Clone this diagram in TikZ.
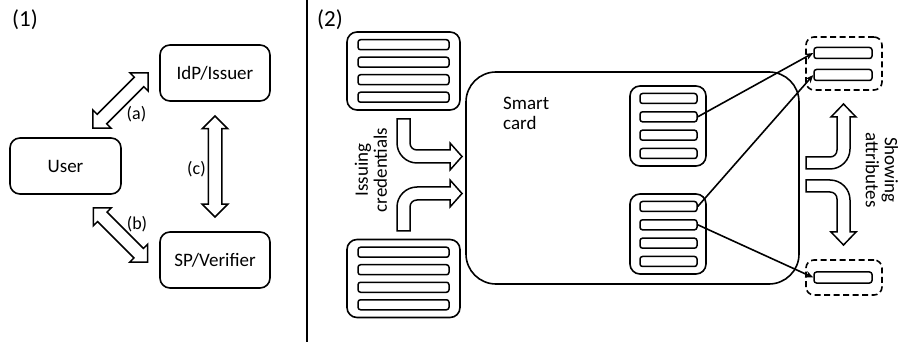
\documentclass[tikz,border=0pt]{standalone}
\usepackage{fontspec}
\setmainfont{Carlito}
\usetikzlibrary{shapes.arrows,arrows.meta}
\begin{document}
\begin{tikzpicture}[x=1pt,y=-1pt,
  box/.style={draw, line width=1.6pt, rounded corners=10pt, minimum width=110pt, minimum height=56pt, inner sep=0pt, font=\fontsize{19}{22}\selectfont},
  fat/.style={double arrow, draw, line width=1.5pt, fill=white, inner xsep=0pt, inner ysep=6pt, minimum width=24pt, double arrow head extend=6pt},
  lbl/.style={font=\fontsize{18}{21}\selectfont, inner sep=0pt},
  big/.style={font=\fontsize{23}{26}\selectfont, inner sep=0pt},
  txt/.style={font=\fontsize{19}{19}\selectfont, inner sep=0pt, align=center},
  cred/.style={draw, line width=1.6pt, rounded corners=10pt, minimum width=113pt, minimum height=78pt, inner sep=0pt},
  incred/.style={draw, line width=1.6pt, rounded corners=10pt, minimum width=76pt, minimum height=80pt, inner sep=0pt},
  bar/.style={draw, line width=1.5pt, rounded corners=2.5pt, minimum width=91pt, minimum height=10pt, inner sep=0pt},
  sbar/.style={bar, minimum width=57pt},
  dbox/.style={draw, line width=1.6pt, dash pattern=on 6pt off 3.5pt, rounded corners=8pt, minimum width=76pt, inner sep=0pt},
  link/.style={line width=1.6pt, -{Stealth[length=8pt,width=6.5pt]}},
  bent/.style={draw, line width=1.5pt, fill=white, line join=miter}
]
\useasboundingbox (0,0) rectangle (899,347);

% ---------- panel (1)
\node[big] (p1) at (25,20) {(1)};
\node[box] (idp) at (215,73) {IdP/Issuer};
\node[box, minimum width=111pt] (user) at (65.5,166) {User};
\node[box] (sp) at (215,260) {SP/Verifier};
\node[fat, minimum height=78pt, rotate=45] (fa) at (120.5,100.5) {};
\node[fat, minimum height=77pt, rotate=-45] (fb) at (120.5,235) {};
\node[fat, minimum height=101pt, rotate=90] (fc) at (215,166.5) {};
\node[lbl] (la) at (136.5,114.5) {(a)};
\node[lbl] (lb) at (137,224.5) {(b)};
\node[lbl] (lc) at (196.5,169.5) {(c)};

% divider
\coordinate (dtop) at (307,0);
\coordinate (dbot) at (307,342);
\draw[line width=2.2pt] (dtop) -- (dbot);

% ---------- panel (2)
\node[big] (p2) at (330,20) {(2)};

% issuer credential blocks
\node[cred] (c1) at (403.5,71) {};
\foreach \i/\dy in {1/-26.25,2/-8.75,3/8.75,4/26.25}
  \node[bar] (c1b\i) at (403.5,71+\dy) {};
\node[cred] (c2) at (403.5,278.5) {};
\foreach \i/\dy in {1/-26.25,2/-8.75,3/8.75,4/26.25}
  \node[bar] (c2b\i) at (403.5,278.5+\dy) {};

% smart card
\node[draw, line width=1.6pt, rounded corners=30pt, minimum width=333pt, minimum height=212pt] (card) at (632.5,178) {};
\node[font=\fontsize{19}{20}\selectfont, anchor=north west, align=left, inner sep=0pt] (sc) at (503,97) {Smart\\card};

\node[incred] (k1) at (668,126) {};
\foreach \i/\dy in {1/-27.5,2/-9.2,3/9.2,4/27.5}
  \node[sbar] (k1b\i) at (668.5,126+\dy) {};
\node[incred] (k2) at (668,234) {};
\foreach \i/\dy in {1/-27.5,2/-9.2,3/9.2,4/27.5}
  \node[sbar] (k2b\i) at (668.5,234+\dy) {};

% shown attributes
\node[dbox, minimum height=53pt] (d1) at (844,63.5) {};
\node[bar, minimum width=58pt, minimum height=11pt] (d1b1) at (843,53) {};
\node[bar, minimum width=58pt, minimum height=11pt] (d1b2) at (843,75) {};
\node[dbox, minimum height=35pt] (d2) at (844,277.5) {};
\node[bar, minimum width=58pt, minimum height=11pt] (d2b1) at (843,277.5) {};

\draw[link] (k1b2.east) -- (d1b1.west);
\draw[link] (k2b1.east) -- (d1b2.west);
\draw[link] (k2b2.east) -- (d2b1.west);

% issuing arrows
\draw[bent] (397,119) -- (397,143) .. controls (397,154) and (406,163) .. (417,163)
  -- (450,163) -- (450,170) -- (462,156.5) -- (450,143) -- (450,150) -- (417,150)
  .. controls (413,150) and (410,147) .. (410,143) -- (410,119) -- cycle;
\draw[bent] (397,231) -- (397,207) .. controls (397,196) and (406,187) .. (417,187)
  -- (450,187) -- (450,180) -- (462,193.5) -- (450,207) -- (450,200) -- (417,200)
  .. controls (413,200) and (410,203) .. (410,207) -- (410,231) -- cycle;
\node[txt, rotate=90] (iss) at (371,170) {Issuing\\credentials};

% showing arrows
\draw[bent] (806,157) -- (830,157) .. controls (834,157) and (837,154) .. (837,150)
  -- (837,117) -- (831,117) -- (843.5,104) -- (856,117) -- (850,117) -- (850,149)
  .. controls (850,160) and (841,169) .. (830,169) -- (806,169) -- cycle;
\draw[bent] (806,192) -- (830,192) .. controls (834,192) and (837,195) .. (837,199)
  -- (837,232) -- (831,232) -- (843.5,245) -- (856,232) -- (850,232) -- (850,200)
  .. controls (850,189) and (841,180) .. (830,180) -- (806,180) -- cycle;
\node[txt, rotate=-90] (show) at (882,170) {Showing\\attributes};
\end{tikzpicture}
\end{document}
